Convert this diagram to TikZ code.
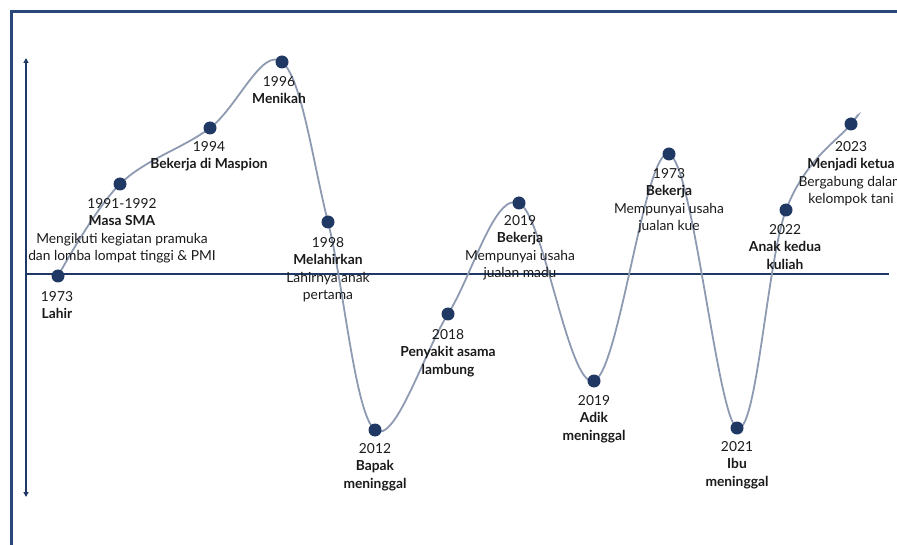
\documentclass[tikz,border=0pt]{standalone}
\usepackage{fontspec}
\setmainfont{Lato}
\usetikzlibrary{arrows.meta}
\definecolor{navy}{HTML}{1F3864}
\definecolor{frameblue}{HTML}{2B4678}
\definecolor{curvegray}{HTML}{8E9AB2}
\definecolor{txt}{HTML}{1A1A1A}
\begin{document}
\begin{tikzpicture}[x=1pt,y=-1pt,
  dot/.style={circle,fill=navy,inner sep=0pt,minimum size=13pt},
  lbl/.style={anchor=north,inner sep=0pt,align=center,text=txt,
    font=\fontsize{13.8}{17.5}\selectfont},
  axis/.style={draw=navy,line width=1.6pt},
  curve/.style={draw=curvegray,line width=1.8pt}]
\useasboundingbox (0,0) rectangle (897,545);
% frame
\draw[draw=frameblue,line width=3pt] (11,560) -- (11,12) -- (910,12);
% axes
\coordinate (vtop) at (26,58);
\coordinate (vbot) at (26,497);
\coordinate (hl) at (26,274);
\coordinate (hr) at (889,274);
\draw[axis,{Triangle[width=5pt,length=5pt]}-{Triangle[width=5pt,length=5pt]}] (vbot) -- (vtop);
\draw[axis] (hl) -- (hr);
% points
\coordinate (p1) at (58,276);
\coordinate (p2) at (120,184);
\coordinate (p3) at (210,128);
\coordinate (p4) at (282,62);
\coordinate (p5) at (328,222);
\coordinate (p6) at (375,430);
\coordinate (p7) at (448,314);
\coordinate (p8) at (519,203);
\coordinate (p9) at (594,381);
\coordinate (p10) at (669,154);
\coordinate (p11) at (737,428);
\coordinate (p12) at (786,210);
\coordinate (p13) at (851,124);
\coordinate (pend) at (856,118);
\draw[curve] plot[smooth,tension=0.6] coordinates {(p1) (p2) (p3) (p4) (p5) (p6) (p7) (p8) (p9) (p10) (p11) (p12) (p13) (pend)};
\foreach \i in {1,...,13} \node[dot] (d\i) at (p\i) {};
% labels
\node[lbl] (l1) at (57,291) {1973\\\textbf{Lahir}};
\node[lbl] (l2) at (122,198) {1991-1992\\\textbf{Masa SMA}\\Mengikuti kegiatan pramuka\\dan lomba lompat tinggi \& PMI};
\node[lbl] (l3) at (209,141) {1994\\\textbf{Bekerja di Maspion}};
\node[lbl] (l4) at (279,76) {1996\\\textbf{Menikah}};
\node[lbl] (l5) at (328,237) {1998\\\textbf{Melahirkan}\\Lahirnya anak\\pertama};
\node[lbl] (l6) at (375,443) {2012\\\textbf{Bapak}\\\textbf{meninggal}};
\node[lbl] (l7) at (448,329) {2018\\\textbf{Penyakit asama}\\\textbf{lambung}};
\node[lbl] (l8) at (520,215) {2019\\\textbf{Bekerja}\\Mempunyai usaha\\jualan madu};
\node[lbl] (l9) at (594,395) {2019\\\textbf{Adik}\\\textbf{meninggal}};
\node[lbl] (l10) at (669,168) {1973\\\textbf{Bekerja}\\Mempunyai usaha\\jualan kue};
\node[lbl] (l11) at (737,441) {2021\\\textbf{Ibu}\\\textbf{meninggal}};
\node[lbl] (l12) at (785,224) {2022\\\textbf{Anak kedua}\\\textbf{kuliah}};
\node[lbl] (l13) at (851,141) {2023\\\textbf{Menjadi ketua}\\Bergabung dalam\\kelompok tani};
\end{tikzpicture}
\end{document}
